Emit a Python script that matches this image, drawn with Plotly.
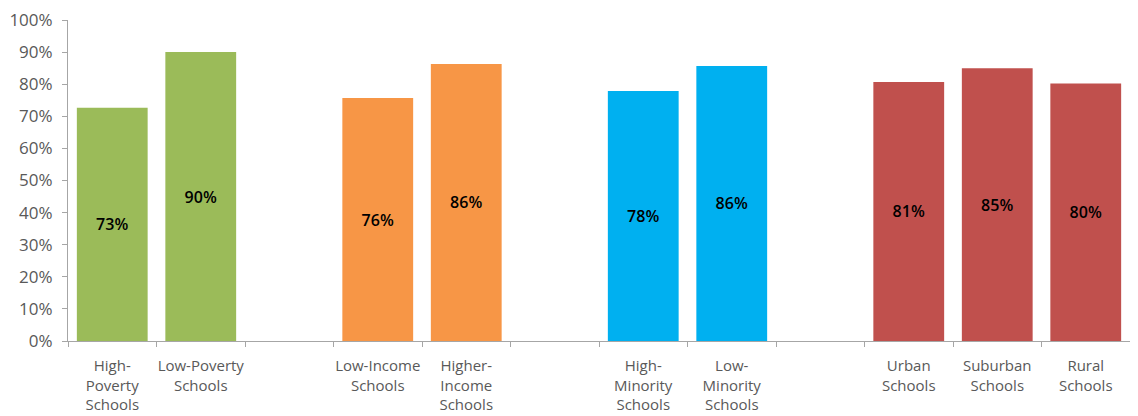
import plotly.graph_objects as go

categories = [
    "High-<br>Poverty<br>Schools", "Low-Poverty<br>Schools", " ",
    "Low-Income<br>Schools", "Higher-<br>Income<br>Schools", "  ",
    "High-<br>Minority<br>Schools", "Low-<br>Minority<br>Schools", "   ",
    "Urban<br>Schools", "Suburban<br>Schools", "Rural<br>Schools",
]
values = [72.7, 90.0, None, 75.7, 86.3, None, 77.9, 85.7, None, 80.7, 85.0, 80.2]
labels = ["73%", "90%", "", "76%", "86%", "", "78%", "86%", "", "81%", "85%", "80%"]
colors = ["#9BBB59", "#9BBB59", "#FFFFFF",
          "#F79646", "#F79646", "#FFFFFF",
          "#00B0F0", "#00B0F0", "#FFFFFF",
          "#C0504D", "#C0504D", "#C0504D"]
y_ticks = [0, 10, 20, 30, 40, 50, 60, 70, 80, 90, 100]
y_tick_labels = [f"{v}%" for v in y_ticks]

fig = go.Figure(go.Bar(
    x=categories, y=values, text=labels,
    marker=dict(color=colors, line=dict(width=0)),
    textposition="inside", insidetextanchor="middle",
    textfont=dict(family="Open Sans", size=16, color="#000000", weight=600),
    textangle=0, cliponaxis=False,
))

fig.update_layout(
    width=1138, height=416,
    margin=dict(l=60, r=16, t=12, b=83, autoexpand=False),
    paper_bgcolor="white", plot_bgcolor="white",
    bargap=0.2, showlegend=False,
    font=dict(family="Open Sans", size=15, color="#595959"),
)
fig.update_xaxes(
    type="category", tickson="boundaries", ticks="outside", ticklen=5,
    tickcolor="#A6A6A6", showline=True, linecolor="#A6A6A6", linewidth=1,
    showgrid=False, tickangle=0, automargin=False, ticklabelstandoff=11,
    tickfont=dict(size=15, color="#595959"),
)
fig.update_yaxes(
    range=[0, 100], tickvals=y_ticks, ticktext=y_tick_labels,
    ticks="outside", ticklen=5, tickcolor="#A6A6A6",
    showline=True, linecolor="#A6A6A6", linewidth=1, automargin=False,
    showgrid=False, zeroline=False, ticklabelstandoff=6,
    ticklabeloverflow="allow",
    tickfont=dict(size=17, color="#595959"),
)

fig.write_html("out.html")
